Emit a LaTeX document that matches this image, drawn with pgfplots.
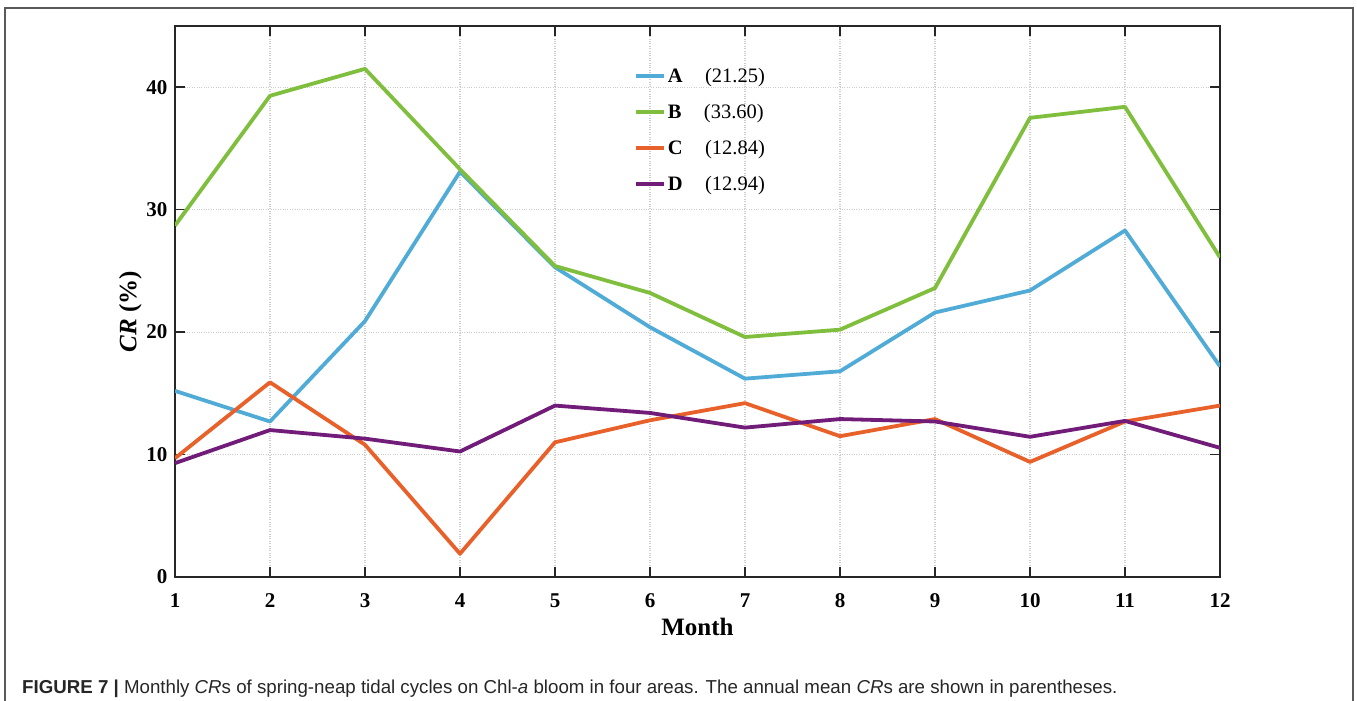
\documentclass[border=0pt]{standalone}
\usepackage{pgfplots}
\pgfplotsset{compat=1.18}
\usepackage{fontspec}
\setmainfont{Liberation Serif}
\newfontfamily\capfont{Liberation Sans}
\definecolor{cA}{RGB}{80,172,214}
\definecolor{cB}{RGB}{128,190,62}
\definecolor{cC}{RGB}{232,97,42}
\definecolor{cD}{RGB}{112,28,120}
\definecolor{gridc}{RGB}{205,205,205}
\begin{document}
\begin{tikzpicture}
\begin{axis}[
  at={(175bp,-577bp)}, anchor=south west,
  scale only axis, width=1045bp, height=551bp,
  xmin=1, xmax=12, ymin=0, ymax=45,
  xtick={1,...,12}, ytick={0,10,20,30,40},
  tick align=inside, major tick length=10bp,
  axis line style={black!85, line width=1.6bp},
  every tick/.style={black!85, line width=1.6bp},
  grid=major,
  major grid style={gridc, dotted, line width=1.2bp},
  /pgf/number format/assume math mode=true,
  ticklabel style={font=\fontsize{21bp}{25bp}\selectfont\bfseries},
  xticklabel style={yshift=-13bp},
  yticklabel style={xshift=-4bp},
  xlabel={\textbf{Month}},
  ylabel={\textbf{\textit{CR} (\%)}},
  label style={font=\fontsize{25bp}{29bp}\selectfont},
  xlabel style={yshift=-4bp},
  ylabel style={at={(ticklabel cs:0.481)}, yshift=-2bp},
  legend style={at={(0.439,0.928)}, anchor=north west, draw=none, fill=none,
     font=\fontsize{20.5bp}{24bp}\selectfont, row sep=16.5bp,
     inner sep=0pt, nodes={inner sep=2bp}},
  legend cell align=left,
  legend image code/.code={\draw[#1] (0bp,0bp) -- (28bp,0bp);},
  every axis plot/.append style={line width=3.8bp, line join=round},
]
\addplot[cA] coordinates {(1,15.2) (2,12.7) (3,20.9) (4,33.1) (5,25.3) (6,20.4) (7,16.2) (8,16.8) (9,21.6) (10,23.4) (11,28.3) (12,17.2)};
\addplot[cB] coordinates {(1,28.7) (2,39.3) (3,41.5) (4,33.3) (5,25.4) (6,23.2) (7,19.6) (8,20.2) (9,23.6) (10,37.5) (11,38.4) (12,26.1)};
\addplot[cC] coordinates {(1,9.7) (2,15.9) (3,10.8) (4,1.9) (5,11.0) (6,12.8) (7,14.2) (8,11.5) (9,12.9) (10,9.4) (11,12.7) (12,14.0)};
\addplot[cD] coordinates {(1,9.3) (2,12.0) (3,11.3) (4,10.25) (5,14.0) (6,13.4) (7,12.2) (8,12.9) (9,12.7) (10,11.45) (11,12.75) (12,10.55)};
\legend{\textbf{A}\hspace{1.1em}(21.25),\textbf{B}\hspace{1.1em}(33.60),\textbf{C}\hspace{1.1em}(12.84),\textbf{D}\hspace{1.1em}(12.94)}
\end{axis}
\draw[black!65, line width=1.5bp] (5bp,-730bp) -- (5bp,-8bp) -- (1353bp,-8bp) -- (1353bp,-730bp);
\node[anchor=base west, inner sep=0pt, font=\capfont\fontsize{18.7bp}{22bp}\selectfont, text=black!85] at (22bp,-693bp)
  {\textbf{FIGURE 7 |} Monthly \textit{CR}s of spring-neap tidal cycles on Chl-\textit{a} bloom in four areas. The annual mean \textit{CR}s are shown in parentheses.};
\pgfresetboundingbox
\useasboundingbox (0bp,0bp) rectangle (1357bp,-701bp);
\end{tikzpicture}
\end{document}
